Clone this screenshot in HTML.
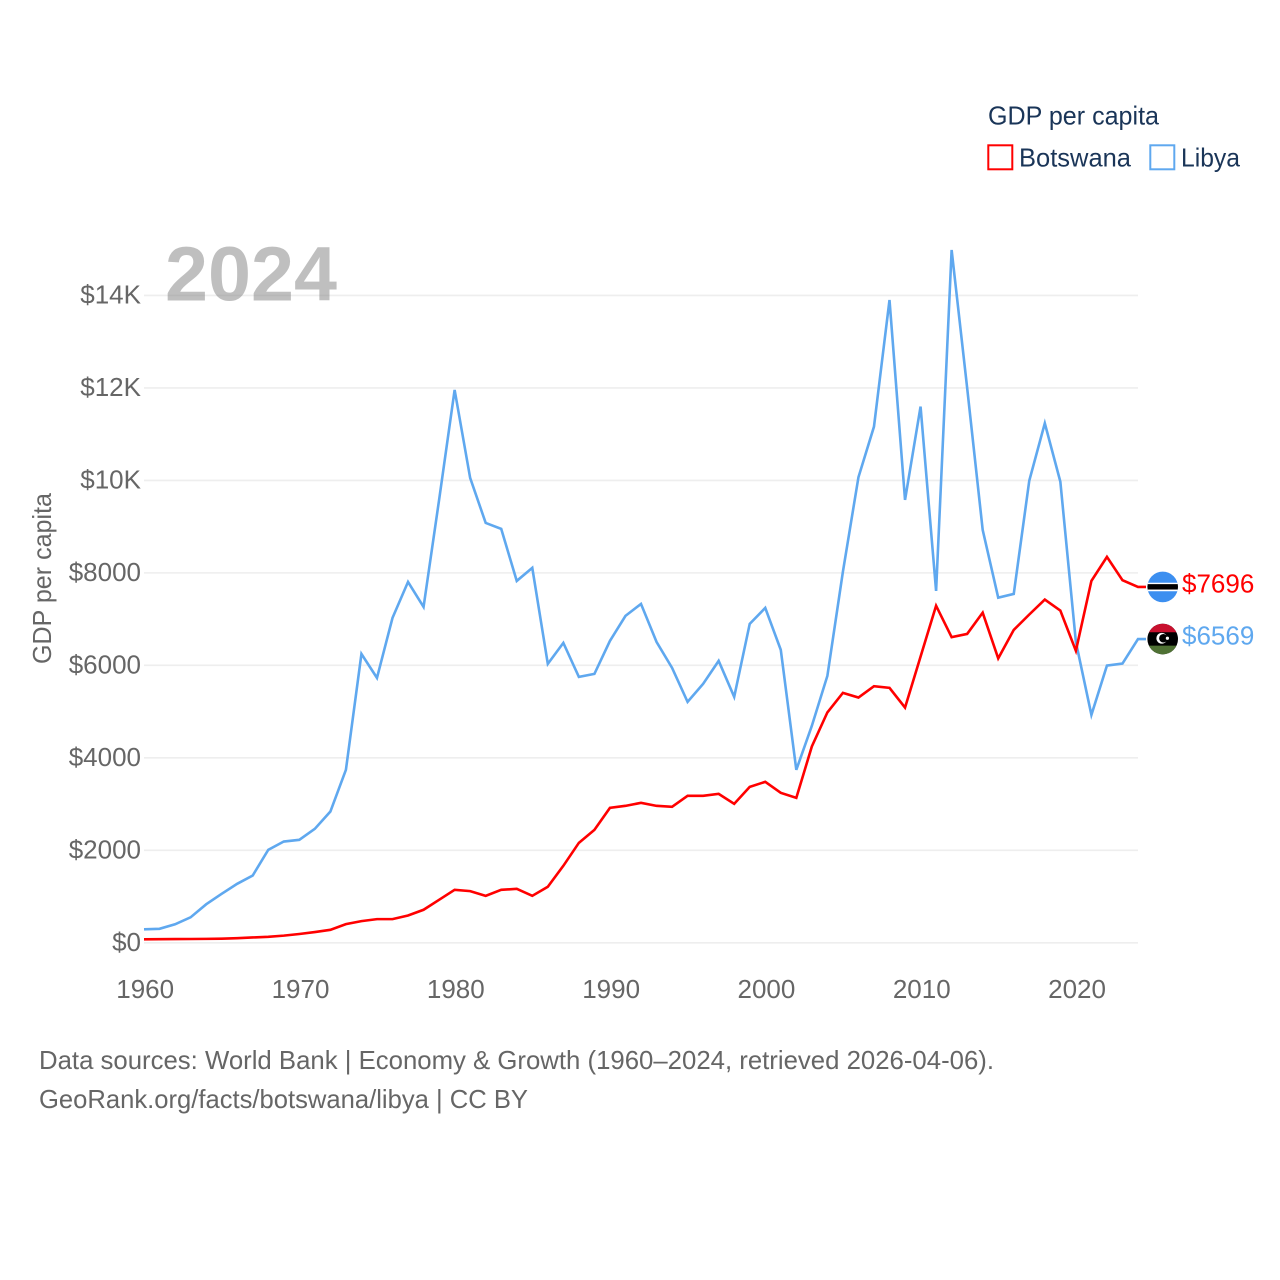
<!DOCTYPE html>
<html lang="en">
<head>
<meta charset="utf-8">
<title>GDP per capita: Botswana and Libya</title>
<style>
html,body{margin:0;padding:0;background:#fff;width:1280px;height:1280px;overflow:hidden}
svg{display:block}
text{font-family:"Liberation Sans",sans-serif}
</style>
</head>
<body>
<svg id="chart" width="1280" height="1280" viewBox="0 0 1280 1280" xmlns="http://www.w3.org/2000/svg">
  <defs>
    <clipPath id="flag-clip-b"><circle id="clip-b" cx="1162.7" cy="586" r="15.3"/></clipPath>
    <clipPath id="flag-clip-l"><circle id="clip-l" cx="1162.7" cy="639" r="15.3"/></clipPath>
  </defs>
  <g id="grid"></g>
  <g id="yticks"></g>
  <g id="xticks"></g>
  <text x="165" y="300.5" font-size="77" font-weight="700" fill="#808080" fill-opacity="0.5" textLength="172" lengthAdjust="spacingAndGlyphs">2024</text>
  <text transform="translate(51,664) rotate(-90)" font-size="26" fill="#666666" textLength="171" lengthAdjust="spacingAndGlyphs">GDP per capita</text>
  <g id="series"></g>
  <g id="flags"></g>
  <g>
    <text x="988" y="124.5" font-size="26" fill="#1a3558" textLength="171" lengthAdjust="spacingAndGlyphs">GDP per capita</text>
    <rect x="988.3" y="145.3" width="24" height="24" fill="none" stroke="#ff0000" stroke-width="2"/>
    <text x="1019" y="166.5" font-size="26" fill="#1a3558" textLength="112" lengthAdjust="spacingAndGlyphs">Botswana</text>
    <rect x="1150.3" y="145.3" width="24" height="24" fill="none" stroke="#5fa8ef" stroke-width="2"/>
    <text x="1181" y="166.5" font-size="26" fill="#1a3558" textLength="59" lengthAdjust="spacingAndGlyphs">Libya</text>
  </g>
  <text x="39" y="1069" font-size="26" fill="#666666" textLength="955" lengthAdjust="spacingAndGlyphs">Data sources: World Bank | Economy &amp; Growth (1960–2024, retrieved 2026-04-06).</text>
  <text x="39" y="1108" font-size="26" fill="#666666" textLength="489" lengthAdjust="spacingAndGlyphs">GeoRank.org/facts/botswana/libya | CC BY</text>
</svg>
<script>
const startYear = 1960;
const yTickValues = [0, 2000, 4000, 6000, 8000, 10000, 12000, 14000];
const yTickLabels = ["$0", "$2000", "$4000", "$6000", "$8000", "$10K", "$12K", "$14K"];
const xTickValues = [1960, 1970, 1980, 1990, 2000, 2010, 2020];
const xTickLabels = ["1960", "1970", "1980", "1990", "2000", "2010", "2020"];
const libyaValues = [292,303,400,551,832,1059,1276,1455,2011,2190,2227,2465,2839,3740,6248,5729,7027,7805,7264,9578,11956,10053,9080,8951,7826,8108,6032,6486,5751,5816,6529,7070,7329,6508,5946,5210,5600,6097,5319,6897,7243,6335,3740,4692,5773,8027,10068,11162,13901,9578,11595,7610,14983,11999,8929,7465,7545,9995,11236,9973,6508,4929,5995,6038,6569];
const botswanaValues = [76,79,80,82,85,90,100,115,130,155,190,232,281,404,469,512,512,590,714,930,1146,1118,1016,1146,1167,1016,1211,1665,2162,2443,2919,2962,3027,2962,2941,3178,3178,3221,3005,3373,3481,3243,3135,4245,4983,5405,5304,5550,5513,5087,6190,7290,6610,6680,7140,6150,6767,7100,7424,7185,6315,7827,8346,7842,7696];

const NS = "http://www.w3.org/2000/svg";
const xOf = function (year) { return 144 + (year - startYear) * (994 / 64); };
const yOf = function (v) { return 942.8 - v * 0.04624; };

function make(tag, parent, attrs, txt) {
  const el = document.createElementNS(NS, tag);
  Object.keys(attrs).forEach(function (k) { el.setAttribute(k, attrs[k]); });
  if (txt !== undefined) el.textContent = txt;
  parent.appendChild(el);
  return el;
}

const gridG = document.getElementById("grid");
const yG = document.getElementById("yticks");
yTickValues.forEach(function (v, i) {
  const line = make("line", gridG, {x1: 144, x2: 1138, y1: yOf(v), y2: yOf(v), stroke: "#eeeeee", "stroke-width": 1.6});
  
  
  const label = make("text", yG, {x: 141, y: yOf(v) + 8, "text-anchor": "end", "font-size": 26, fill: "#666666"}, yTickLabels[i]);
  
  
});

const xG = document.getElementById("xticks");
xTickValues.forEach(function (yr, i) {
  const label = make("text", xG, {x: xOf(yr) + 1.2, y: 998, "text-anchor": "middle", "font-size": 26, fill: "#666666"}, xTickLabels[i]);
  
  
});

function pathFor(values) {
  const pts = values.map(function (v, i) { return xOf(startYear + i).toFixed(2) + "," + yOf(v).toFixed(2); });
  const last = values[values.length - 1];
  pts.push("1146," + yOf(last).toFixed(2));
  return "M" + pts.join("L");
}

const seriesG = document.getElementById("series");
const libyaLine = make("path", seriesG, {d: pathFor(libyaValues), fill: "none", stroke: "#5fa8ef", "stroke-width": 2.6, "stroke-linejoin": "miter"});


const botswanaLine = make("path", seriesG, {d: pathFor(botswanaValues), fill: "none", stroke: "#ff0000", "stroke-width": 2.6, "stroke-linejoin": "miter"});



const flagsG = document.getElementById("flags");
const yB = yOf(botswanaValues[botswanaValues.length - 1]);
const yL = yOf(libyaValues[libyaValues.length - 1]);
document.getElementById("clip-b").setAttribute("cy", yB);
document.getElementById("clip-l").setAttribute("cy", yL);

const flagB = make("g", flagsG, {"clip-path": "url(#flag-clip-b)"});


make("rect", flagB, {x: 1147, y: yB - 16, width: 32, height: 32, fill: "#3c8ff0"});
make("rect", flagB, {x: 1147, y: yB - 4.2, width: 32, height: 8.5, fill: "#ffffff"});
make("rect", flagB, {x: 1147, y: yB - 2.8, width: 32, height: 5.4, fill: "#000000"});

const flagL = make("g", flagsG, {"clip-path": "url(#flag-clip-l)"});


make("rect", flagL, {x: 1147, y: yL - 16, width: 32, height: 32, fill: "#000000"});
make("rect", flagL, {x: 1147, y: yL - 16, width: 32, height: 9.2, fill: "#c8102e"});
make("rect", flagL, {x: 1147, y: yL + 6.6, width: 32, height: 10, fill: "#4f7134"});
make("circle", flagL, {cx: 1161.8, cy: yL - 0.8, r: 5.4, fill: "#ffffff"});
make("circle", flagL, {cx: 1163.4, cy: yL - 0.8, r: 4.3, fill: "#000000"});
make("circle", flagL, {cx: 1167.4, cy: yL - 0.8, r: 1.6, fill: "#ffffff"});

const labelB = make("text", flagsG, {x: 1182, y: yB + 5.5, "font-size": 26, fill: "#ff0000"}, "$7696");


const labelL = make("text", flagsG, {x: 1182, y: yL + 5.5, "font-size": 26, fill: "#5fa8ef"}, "$6569");


</script>
</body>
</html>
